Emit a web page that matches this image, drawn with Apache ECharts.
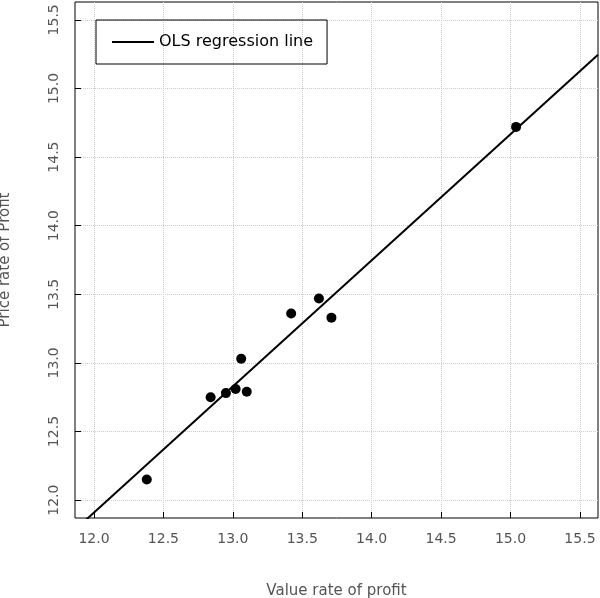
<!DOCTYPE html>
<html><head><meta charset="utf-8">
<script src="https://cdn.jsdelivr.net/npm/echarts@6/dist/echarts.min.js"></script>
<style>html,body{margin:0;background:#fff}#c{width:600px;height:598px}</style>
</head><body><div id="c"></div>
<script>
const valueRate = [12.38,12.84,12.95,13.02,13.06,13.10,13.42,13.62,13.71,15.04];
const priceRate = [12.15,12.75,12.78,12.81,13.03,12.79,13.36,13.47,13.33,14.72];
const olsIntercept = 0.882, olsSlope = 0.919;
const xMin = 11.863, xMax = 15.63, yMin = 11.87, yMax = 15.63;
const tickVals = [12,12.5,13,13.5,14,14.5,15,15.5];
const lineX = [xMin, xMax];
const chart = echarts.init(document.getElementById('c'));
const ff = 'DejaVu Sans';
const axisCommon = {
  interval: 0.5,
  axisLine:{show:false}, axisTick:{show:true,length:-6,lineStyle:{color:'#000'}},
  splitLine:{show:true,lineStyle:{color:'#ccc',type:'dotted'}},
  axisLabel:{color:'#555',fontFamily:ff,fontSize:14,formatter:v=>v.toFixed(1)}
};
chart.setOption({
  animation:false,
  textStyle:{fontFamily:ff},
  grid:{left:75,right:2,top:2,bottom:80,outerBoundsMode:'none',show:true,borderColor:'#000',borderWidth:1},
  legend:{left:96,top:20,padding:[14,14,14,16],borderColor:'#000',borderWidth:1,itemWidth:42,itemHeight:2,itemGap:10,
    textStyle:{fontSize:16,color:'#000',fontFamily:ff},data:[{name:'OLS regression line',icon:'rect',itemStyle:{color:'#000'}}]},
  xAxis:Object.assign({type:'value',min:xMin,max:xMax,name:'Value rate of profit',nameLocation:'middle',nameGap:66,
    nameTextStyle:{fontSize:15,color:'#555',fontFamily:ff}},axisCommon,{
    axisLabel:Object.assign({},axisCommon.axisLabel,{margin:14,customValues:tickVals}),
    axisTick:Object.assign({},axisCommon.axisTick,{customValues:tickVals})}),
  yAxis:Object.assign({type:'value',min:yMin,max:yMax,name:'Price rate of Profit',nameLocation:'middle',nameGap:62,
    nameTextStyle:{fontSize:15,color:'#555',fontFamily:ff}},axisCommon,{
    axisLabel:Object.assign({},axisCommon.axisLabel,{rotate:90,margin:14,customValues:tickVals}),
    axisTick:Object.assign({},axisCommon.axisTick,{customValues:tickVals})}),
  series:[
    {type:'scatter',data:valueRate.map((x,i)=>[x,priceRate[i]]),symbolSize:10,itemStyle:{color:'#000',opacity:1}},
    {name:'OLS regression line',type:'line',data:lineX.map(x=>[x,olsIntercept+olsSlope*x]),showSymbol:false,
      lineStyle:{color:'#000',width:2},itemStyle:{color:'#000'}}
  ]
});
</script></body></html>
